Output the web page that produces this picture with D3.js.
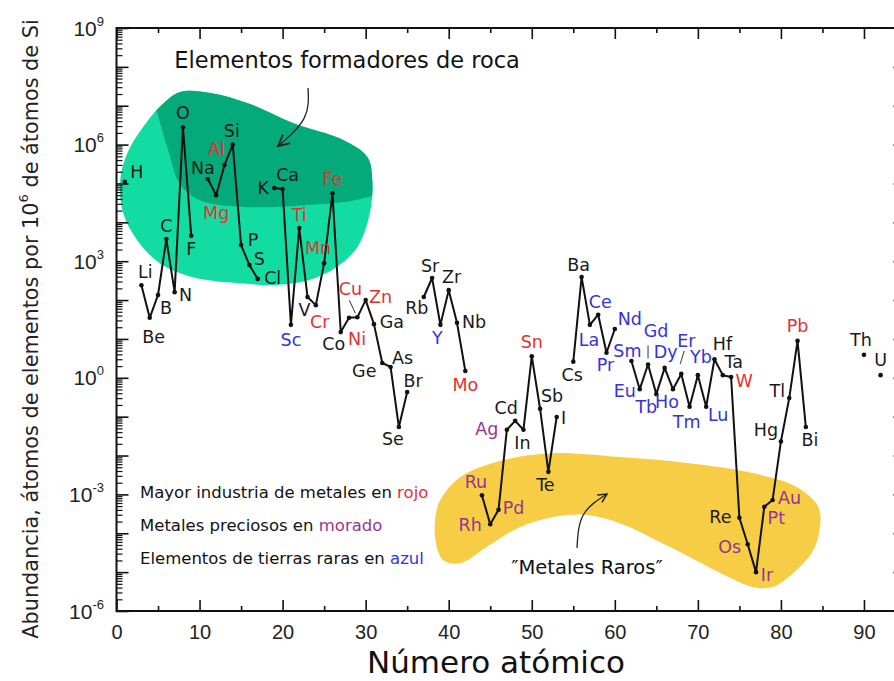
<!DOCTYPE html>
<html>
<head>
<meta charset="utf-8">
<script src="https://cdn.jsdelivr.net/npm/d3@7"></script>
<style>
  html, body { margin: 0; padding: 0; background: #fff; }
  svg { display: block; }
</style>
</head>
<body>
<svg id="chart" width="894" height="681"></svg>
<script>
// Abundance of the elements in the upper continental crust,
// atoms per 10^6 atoms of Si, by atomic number.
const symbols = ["H","Li","Be","B","C","N","O","F","Na","Mg","Al","Si","P","S","Cl","K","Ca","Sc","Ti","V","Cr","Mn","Fe","Co","Ni","Cu","Zn","Ga","Ge","As","Se","Br","Rb","Sr","Y","Zr","Nb","Mo","Ru","Rh","Pd","Ag","Cd","In","Sn","Sb","Te","I","Cs","Ba","La","Ce","Pr","Nd","Sm","Eu","Gd","Tb","Dy","Ho","Er","Tm","Yb","Lu","Hf","Ta","W","Re","Os","Ir","Pt","Au","Hg","Tl","Pb","Bi","Th","U"];
const atomicNumbers = [1,3,4,5,6,7,8,9,11,12,13,14,15,16,17,19,20,21,22,23,24,25,26,27,28,29,30,31,32,33,34,35,37,38,39,40,41,42,44,45,46,47,48,49,50,51,52,53,55,56,57,58,59,60,62,63,64,65,66,67,68,69,70,71,72,73,74,75,76,77,78,79,80,81,82,83,90,92];
const abundances = [1.1e5,240,35,135,3.7e3,160,2.8e6,4.5e3,1.3e5,5.0e4,3.0e5,1.0e6,2.6e3,800,350,7.6e4,7.2e4,23,7.1e3,120,74,890,5.6e4,15,35,36,100,24,2.4,1.9,0.054,0.43,120,370,23,180,26,1.5,9.5e-4,1.7e-4,4.0e-4,0.046,0.078,0.046,3.6,0.16,0.0038,0.098,2.6,390,23,42,4.4,18,2.7,0.51,2.2,0.38,1.8,0.51,1.26,0.18,1.17,0.18,3.0,1.17,1.05,2.5e-4,5.2e-5,1.0e-5,4.8e-4,7.2e-4,0.023,0.30,8.9,0.054,3.9,1.17];
// k = other, r = major industrial metal, p = precious metal, b = rare earth
const groups = ["k","k","k","k","k","k","k","k","k","r","r","k","k","k","k","k","k","b","r","k","r","r","r","k","r","r","r","k","k","k","k","k","k","k","b","k","k","r","p","p","p","p","k","k","r","k","k","k","k","k","b","b","b","b","b","b","b","b","b","b","b","b","b","b","k","k","r","k","p","p","p","p","k","k","r","k","k","k"];

const xTicks = [0,10,20,30,40,50,60,70,80,90];
const xMinorTicks = [5,15,25,35,45,55,65,75,85,95];
const yLabelExponents = [9,6,3,0,-3,-6];

const groupColor = { k: "#1a1a1a", r: "#e03232", p: "#953592", b: "#3434d8" };

// label placement around each point (px)
const labelOffset = {
  H:[12,-10], Li:[4,-13], Be:[4,19], B:[8,13], C:[0,-13], N:[11,3], O:[0,-14], F:[0,13],
  Na:[-5,-11], Mg:[0,18], Al:[-8,-16], Si:[-1,-14], P:[12,-5], S:[10,-6], Cl:[15,-1],
  K:[-11,0], Ca:[5,-14], Sc:[0,15], Ti:[0,-13], V:[-3,13], Cr:[4,17], Mn:[-6,-15], Fe:[0,-14],
  Co:[-7,12], Ni:[8,21], Cu:[-7,-28], Zn:[15,-3], Ga:[18,-2], Ge:[-18,8], As:[12,-9],
  Se:[-6,12], Br:[6,-11], Rb:[-7,11], Sr:[-2,-12], Y:[-3,13], Zr:[3,-13], Nb:[17,-1], Mo:[0,14],
  Ru:[-6,-13], Rh:[-20,1], Pd:[15,-2], Ag:[-20,-1], Cd:[-9,-13], In:[-1,13], Sn:[0,-14],
  Sb:[12,-13], Te:[-3,13], I:[7,1], Cs:[-1,13], Ba:[-3,-12], La:[-1,15], Ce:[2,-13], Pr:[-1,12],
  Nd:[15,-10], Sm:[-4,-10], Eu:[-15,2], Gd:[8,-33], Tb:[-10,13], Dy:[1,-16], Ho:[-6,13],
  Er:[5,-33], Tm:[-3,15], Yb:[3,-18], Lu:[12,8], Hf:[8,-15], Ta:[11,-13], W:[13,4],
  Re:[-19,-1], Os:[-18,3], Ir:[11,3], Pt:[12,11], Au:[17,-2], Hg:[-15,-11], Tl:[-12,-7],
  Pb:[0,-15], Bi:[4,13], Th:[-3,-15], U:[0,-15]
};
// short leader lines from a label to its point: [dx1, dy1, dx2, dy2]
const leaders = { Cu:[-8,-17,-2,-4], Gd:[0,-19,0,-6], Er:[3,-23,-1,-10] };

// outlines of the shaded groups, in (atomic number, log10 abundance)
const rockBlob = [[7.6,7.35],[11.3,7.33],[16,7.05],[21.3,6.55],[27.3,6.12],[30.2,5.68],[30.8,5.09],[30.5,4.24],[29.0,3.36],[26.5,2.85],[23.3,2.52],[19.3,2.39],[14.5,2.44],[9.2,2.59],[5.2,2.95],[2.5,3.54],[0.8,4.24],[0.45,5.09],[1.3,5.78],[3.2,6.45],[5.2,6.97]];
const rockUpperEdge = [[4.0,7.45],[4.9,6.81],[6.2,5.86],[7.7,4.96],[10.0,4.57],[13.7,4.42],[18.5,4.39],[23.3,4.45],[27.5,4.52],[31.7,4.73]];
const rareBlob = [[39.0,-3.14],[41.4,-2.55],[46.5,-2.12],[52.6,-1.94],[60.6,-2.04],[68.7,-2.19],[76.6,-2.45],[81.9,-2.81],[84.5,-3.32],[84.7,-3.84],[83.9,-4.43],[81.5,-5.02],[79.0,-5.38],[76.6,-5.38],[72.7,-5.02],[66.6,-4.35],[60.6,-3.74],[56.7,-3.53],[52.6,-3.58],[48.6,-3.84],[44.6,-4.35],[41.4,-4.77],[39.3,-4.69],[38.4,-4.17],[38.4,-3.58]];
const rockArrow = [[23.06,7.46],[22.6,6.68],[19.45,5.96]];
const rareArrow = [[55.45,-4.38],[56.2,-3.53],[59.06,-2.99]];

const svg = d3.select("#chart");
const W = 894, H = 681;
svg.append("rect").attr("width", W).attr("height", H).attr("fill", "#fff");

const x = d3.scaleLinear().domain([0, 95]).range([116.5, 905.5]);
const y = d3.scaleLog().domain([1e-6, 1e9]).range([611, 28]);
const ly = e => y(Math.pow(10, e));

const defs = svg.append("defs");

// shaded regions
const blobLine = d3.line().x(d => x(d[0])).y(d => ly(d[1])).curve(d3.curveCatmullRomClosed.alpha(0.5));
const edgeLine = d3.line().x(d => x(d[0])).y(d => ly(d[1])).curve(d3.curveCatmullRom.alpha(0.5));

svg.append("path").attr("d", blobLine(rockBlob)).attr("fill", "#12dca2");
const last = rockUpperEdge[rockUpperEdge.length - 1], first = rockUpperEdge[0];
defs.append("clipPath").attr("id", "rock-upper").append("path")
  .attr("d", edgeLine(rockUpperEdge) + `L${x(last[0] + 4)},${ly(last[1])}L${x(last[0] + 4)},${ly(9)}L${x(first[0])},${ly(9)}Z`);
svg.append("path").attr("d", blobLine(rockBlob)).attr("fill", "#05aa7b").attr("clip-path", "url(#rock-upper)");

svg.append("path").attr("d", blobLine(rareBlob)).attr("fill", "#f8cd46");

// frame and ticks
const g = svg.append("g");
function styleAxis(sel) {
  sel.select(".domain").remove();
  sel.selectAll(".tick line").attr("stroke", "#111").attr("stroke-width", 1.6);
}
const majorDecades = d3.range(-6, 10).map(e => Math.pow(10, e));
const minorDecades = [];
for (let e = -6; e < 9; e++) for (let m = 2; m <= 9; m++) minorDecades.push(m * Math.pow(10, e));

g.append("g").attr("transform", "translate(0,611)")
  .call(d3.axisBottom(x).tickValues(xTicks).tickSize(-11).tickPadding(14).tickFormat(d3.format("d")))
  .call(styleAxis)
  .selectAll("text").attr("font-family", "'Liberation Sans', Arial, sans-serif")
  .attr("font-size", 20).attr("fill", "#222");
g.append("g").attr("transform", "translate(0,611)")
  .call(d3.axisBottom(x).tickValues(xMinorTicks).tickSize(-5).tickFormat("")).call(styleAxis);
g.append("g").attr("transform", "translate(0,28)")
  .call(d3.axisTop(x).tickValues(xTicks).tickSize(-11).tickFormat("")).call(styleAxis);
g.append("g").attr("transform", "translate(0,28)")
  .call(d3.axisTop(x).tickValues(xMinorTicks).tickSize(-5).tickFormat("")).call(styleAxis);

[[d3.axisLeft, 116.5], [d3.axisRight, 905.5]].forEach(([axisFn, px]) => {
  g.append("g").attr("transform", `translate(${px},0)`)
    .call(axisFn(y).tickValues(majorDecades).tickSize(-12).tickFormat("")).call(styleAxis);
  g.append("g").attr("transform", `translate(${px},0)`)
    .call(axisFn(y).tickValues(minorDecades).tickSize(-6).tickFormat("")).call(styleAxis)
    .selectAll(".tick line").attr("stroke-width", 1.2);
});

g.append("rect").attr("x", 116.5).attr("y", 28).attr("width", 905.5 - 116.5).attr("height", 611 - 28)
  .attr("fill", "none").attr("stroke", "#111").attr("stroke-width", 2);

// y tick labels as powers of ten
const yl = svg.append("g").attr("font-family", "'Liberation Sans', Arial, sans-serif").attr("fill", "#222");
yLabelExponents.forEach(e => {
  const t = yl.append("text").attr("x", 104).attr("y", ly(e) + 7.5).attr("text-anchor", "end").attr("font-size", 21);
  t.append("tspan").text("10");
  t.append("tspan").attr("font-size", 13).attr("dy", -10).text(e);
});

// axis titles
svg.append("text").attr("x", 496).attr("y", 673).attr("text-anchor", "middle")
  .attr("font-family", "'DejaVu Sans', sans-serif")
  .attr("font-size", 31).attr("fill", "#111").text("Número atómico");

const yTitle = svg.append("text").attr("transform", "translate(38,329) rotate(-90)")
  .attr("text-anchor", "middle").attr("font-family", "'DejaVu Sans', sans-serif")
  .attr("font-size", 20.8).attr("fill", "#222");
yTitle.append("tspan").text("Abundancia, átomos de elementos por 10");
yTitle.append("tspan").attr("font-size", 13).attr("dy", -10).text("6");
yTitle.append("tspan").attr("dy", 10).text(" de átomos de Si");

// data line, broken where an element is missing
const byZ = new Map(atomicNumbers.map((z, i) => [z, abundances[i]]));
const series = d3.range(1, 93).map(z => ({ z, v: byZ.get(z) }));
const line = d3.line().defined(d => d.v !== undefined).x(d => x(d.z)).y(d => y(d.v));
svg.append("path").attr("d", line(series)).attr("fill", "none")
  .attr("stroke", "#111").attr("stroke-width", 2).attr("stroke-linejoin", "round");

svg.append("g").selectAll("circle").data(atomicNumbers).join("circle")
  .attr("cx", (z) => x(z)).attr("cy", (z, i) => y(abundances[i])).attr("r", 2.3).attr("fill", "#111");

// leader lines
Object.entries(leaders).forEach(([s, o]) => {
  const i = symbols.indexOf(s);
  const px = x(atomicNumbers[i]), py = y(abundances[i]);
  svg.append("line").attr("x1", px + o[0]).attr("y1", py + o[1]).attr("x2", px + o[2]).attr("y2", py + o[3])
    .attr("stroke", "#333").attr("stroke-width", 1);
});

// element labels
svg.append("g").attr("font-family", "'DejaVu Sans', sans-serif").attr("font-size", 17.5)
  .selectAll("text").data(symbols).join("text")
  .attr("x", (s, i) => x(atomicNumbers[i]) + labelOffset[s][0])
  .attr("y", (s, i) => y(abundances[i]) + labelOffset[s][1])
  .attr("text-anchor", "middle").attr("dominant-baseline", "central")
  .attr("fill", (s, i) => groupColor[groups[i]])
  .text(s => s);

// annotations
const arrowLine = d3.line().x(d => x(d[0])).y(d => ly(d[1])).curve(d3.curveNatural);
function arrowHead(id, size) {
  defs.append("marker").attr("id", id).attr("viewBox", "0 0 10 10").attr("refX", 9).attr("refY", 5)
    .attr("markerWidth", size).attr("markerHeight", size).attr("markerUnits", "userSpaceOnUse")
    .attr("orient", "auto")
    .append("path").attr("d", "M1,1L9,5L1,9").attr("fill", "none").attr("stroke", "#222").attr("stroke-width", 1.3);
}
arrowHead("ah1", 14);
arrowHead("ah2", 11);
svg.append("path").attr("d", arrowLine(rockArrow)).attr("fill", "none").attr("stroke", "#222")
  .attr("stroke-width", 1.3).attr("marker-end", "url(#ah1)");
svg.append("path").attr("d", arrowLine(rareArrow)).attr("fill", "none").attr("stroke", "#222")
  .attr("stroke-width", 1.3).attr("marker-end", "url(#ah2)");

svg.append("text").attr("x", x(27.77)).attr("y", ly(8.18)).attr("text-anchor", "middle")
  .attr("dominant-baseline", "central").attr("font-family", "'DejaVu Sans', sans-serif")
  .attr("font-size", 22.5).attr("fill", "#111").text("Elementos formadores de roca");

svg.append("text").attr("x", x(56.65)).attr("y", ly(-4.87)).attr("text-anchor", "middle")
  .attr("dominant-baseline", "central").attr("font-family", "'DejaVu Sans', sans-serif")
  .attr("font-size", 19.5).attr("fill", "#111").text("″Metales Raros″");

const legend = [
  ["Mayor industria de metales en ", "rojo", "r", -2.94],
  ["Metales preciosos en ", "morado", "p", -3.79],
  ["Elementos de tierras raras en ", "azul", "b", -4.64]
];
const lg = svg.append("g").attr("font-family", "'DejaVu Sans', sans-serif").attr("font-size", 16.5);
legend.forEach(([txt, word, grp, e]) => {
  const t = lg.append("text").attr("x", x(2.83)).attr("y", ly(e)).attr("dominant-baseline", "central").attr("fill", "#111");
  t.append("tspan").text(txt);
  t.append("tspan").attr("fill", groupColor[grp]).text(word);
});
</script>
</body>
</html>
